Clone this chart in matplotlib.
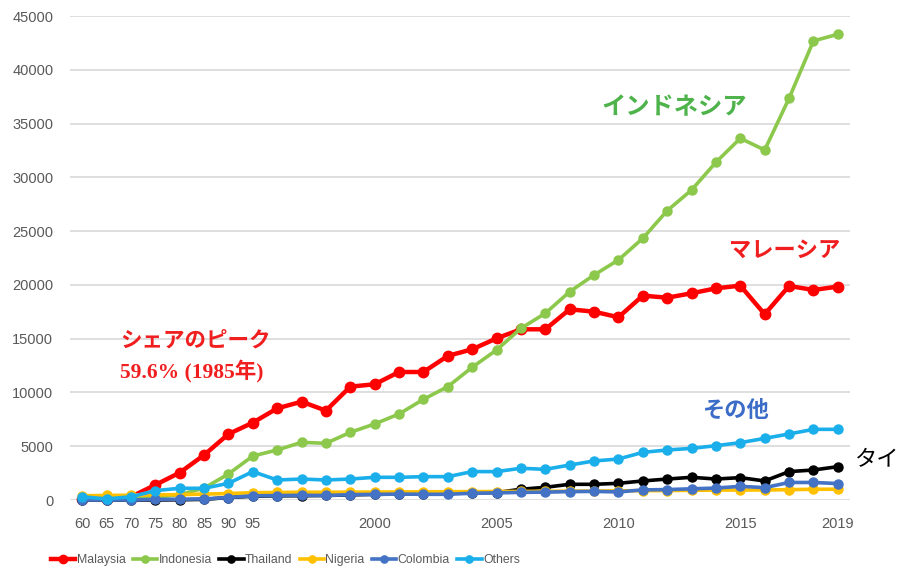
import matplotlib
matplotlib.use("Agg")
import numpy as np
from matplotlib import pyplot as plt

# Years on the category axis: 5-year steps up to 1995, then every year.
years = [1960, 1965, 1970, 1975, 1980, 1985, 1990, 1995] + list(range(1996, 2020))
shown_labels = {1960: "60", 1965: "65", 1970: "70", 1975: "75", 1980: "80",
	1985: "85", 1990: "90", 1995: "95", 2000: "2000", 2005: "2005",
	2010: "2010", 2015: "2015", 2019: "2019"}

# Production (thousand tonnes).
malaysia = [100, 100, 300, 1400, 2540, 4180, 6130, 7190, 8520, 9140, 8310, 10540,
	10760, 11900, 11900, 13400, 14010, 15030, 15870, 15870, 17730, 17510, 16990,
	19000, 18810, 19220, 19680, 19930, 17270, 19900, 19530, 19840]
indonesia = [100, 100, 150, 250, 500, 1100, 2420, 4090, 4650, 5360, 5270, 6290,
	7070, 8000, 9360, 10540, 12340, 13950, 15960, 17360, 19370, 20920, 22320,
	24330, 26900, 28820, 31400, 33630, 32540, 37350, 42680, 43300]
thailand = [0, 0, 0, 0, 20, 60, 230, 350, 390, 400, 420, 480, 525, 560, 600, 640,
	670, 690, 1000, 1180, 1460, 1460, 1550, 1770, 1950, 2110, 1950, 2080, 1770,
	2640, 2790, 3100]
nigeria = [400, 420, 450, 480, 500, 550, 600, 680, 700, 720, 720, 730, 740, 750,
	760, 770, 780, 790, 800, 810, 820, 830, 850, 870, 880, 900, 920, 930, 930,
	960, 1000, 1000]
colombia = [0, 0, 10, 50, 70, 100, 230, 390, 410, 440, 420, 500, 520, 550, 530,
	530, 630, 660, 710, 730, 780, 800, 750, 940, 970, 1040, 1110, 1270, 1150,
	1630, 1630, 1530]
others = [300, 100, 300, 870, 1090, 1090, 1550, 2640, 1860, 1950, 1860, 1950,
	2110, 2110, 2170, 2170, 2640, 2640, 2950, 2850, 3250, 3630, 3810, 4430, 4650,
	4800, 5050, 5330, 5730, 6140, 6570, 6570]

series = [("Malaysia", malaysia, "#FF0000"),
	("Indonesia", indonesia, "#8CC84B"),
	("Thailand", thailand, "#000000"),
	("Nigeria", nigeria, "#FFC000"),
	("Colombia", colombia, "#4472C4"),
	("Others", others, "#1AAFEA")]

tick_font = ["Liberation Sans", "DejaVu Sans"]
jp_font = ["Noto Sans CJK JP", "DejaVu Sans"]

fig = plt.figure(figsize=(9.01, 5.72), dpi=100)
ax = fig.add_axes([70 / 901, 1 - 500 / 572, 780 / 901, 484 / 572])

xs = np.arange(len(years))
for name, values, color in series:
	lw = 3.2 if name == "Malaysia" else 2.6
	ms = 7.5 if name == "Malaysia" else 6.5
	ax.plot(xs, values, color=color, lw=lw, marker="o", markersize=ms,
		label=name, clip_on=False)

ax.set_xlim(-0.5, len(years) - 0.5)
ax.set_ylim(0, 45000)
ax.set_yticks(np.arange(0, 45001, 5000))
ax.set_yticklabels([str(v) for v in range(0, 45001, 5000)], family=tick_font,
	fontsize=10.5, color="#595959")
tick_pos = [i for i, y in enumerate(years) if y in shown_labels]
ax.set_xticks(tick_pos)
ax.set_xticklabels([shown_labels[years[i]] for i in tick_pos], family=tick_font,
	fontsize=10.5, color="#595959")
ax.tick_params(length=0, pad=12)
ax.tick_params(axis="y", pad=12)
ax.grid(axis="y", color="#D9D9D9", lw=1.2)
ax.set_axisbelow(True)
for s in ax.spines.values():
	s.set_visible(False)

# Annotations
ax.text(674 / 901, 1 - 107 / 572, "インドネシア", transform=fig.transFigure,
	ha="center", va="center", fontsize=17.5, color="#4DB34A", family=jp_font,
	fontweight="bold")
ax.text(785 / 901, 1 - 250 / 572, "マレーシア", transform=fig.transFigure,
	ha="center", va="center", fontsize=16, color="#F01E1E", family=jp_font,
	fontweight="bold")
ax.text(120 / 901, 1 - 340 / 572, "シェアのピーク", transform=fig.transFigure,
	ha="left", va="center", fontsize=15.5, color="#F01E1E", family=jp_font,
	fontweight="bold")
ax.text(120 / 901, 1 - 371 / 572, "59.6% (1985年)", transform=fig.transFigure,
	ha="left", va="center", fontsize=15.5, color="#F01E1E",
	family=["Liberation Serif", "Noto Sans CJK JP"], fontweight="bold")
ax.text(735 / 901, 1 - 410 / 572, "その他", transform=fig.transFigure,
	ha="center", va="center", fontsize=16, color="#3A6CC8", family=jp_font,
	fontweight="bold")
ax.text(855 / 901, 1 - 460 / 572, "タイ", transform=fig.transFigure,
	ha="left", va="center", fontsize=16, color="#000000", family=jp_font)

leg = fig.legend(loc="center left", bbox_to_anchor=(40 / 901, 1 - 560 / 572),
	ncol=6, frameon=False, handlelength=2.0, handletextpad=0.1,
	columnspacing=0.6, markerscale=0.8,
	prop={"family": tick_font, "size": 8.8})
for t in leg.get_texts():
	t.set_color("#595959")

fig.savefig("out.png", dpi=100)
